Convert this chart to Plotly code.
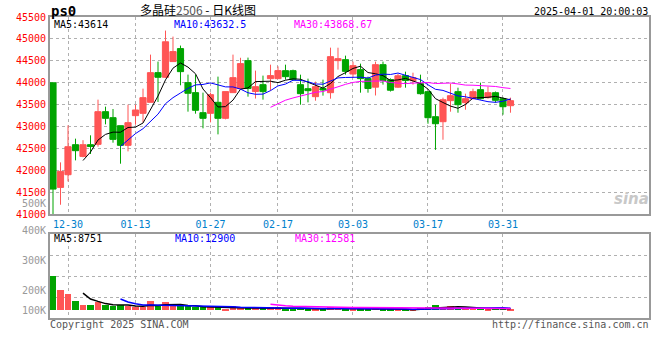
import pandas as pd
import plotly.graph_objects as go

dates = ["2024-12-26","2024-12-27","2024-12-30","2024-12-31","2025-01-02","2025-01-03","2025-01-06","2025-01-07",
         "2025-01-08","2025-01-09","2025-01-10","2025-01-13","2025-01-14","2025-01-15","2025-01-16","2025-01-17",
         "2025-01-20","2025-01-21","2025-01-22","2025-01-23","2025-01-24","2025-01-27","2025-02-05","2025-02-06",
         "2025-02-07","2025-02-10","2025-02-11","2025-02-12","2025-02-13","2025-02-14","2025-02-17","2025-02-18",
         "2025-02-19","2025-02-20","2025-02-21","2025-02-24","2025-02-25","2025-02-26","2025-02-27","2025-02-28",
         "2025-03-03","2025-03-04","2025-03-05","2025-03-06","2025-03-07","2025-03-10","2025-03-11","2025-03-12",
         "2025-03-13","2025-03-14","2025-03-17","2025-03-18","2025-03-19","2025-03-20","2025-03-21","2025-03-24",
         "2025-03-25","2025-03-26","2025-03-27","2025-03-28","2025-03-31","2025-04-01"]

opens = [44000,41614,41903,42588,42321,42588,42595,43341,43204,43021,42573,43250,43303,43554,44231,44125,
         44483,44779,44003,43775,43318,43303,43554,43189,43775,43866,44505,43800,43957,44094,44094,44276,
         44276,43957,43865,43683,43870,43774,44505,44527,44200,44299,44100,43900,44413,44071,43900,44162,
         44048,43980,43797,43226,43112,43592,43797,43546,43637,43843,43660,43774,43637,43477]
highs = [44000,42184,43029,42725,42690,42801,43615,43455,43402,43021,43501,43501,43866,44642,44483,45190,
         45053,44848,44186,44186,43775,43775,44140,43798,44642,44570,44574,44277,44163,44413,44375,44413,
         44300,44185,44094,44026,44071,44801,44800,44619,44482,44436,44140,44482,44482,44100,44200,44253,
         44230,44185,43797,43500,43660,43980,43888,43751,43865,44003,43911,43800,43667,43660]
lows = [40800,41218,41750,42230,42300,42375,42542,43052,42633,42154,42435,43044,43100,43554,43562,44110,
        44483,43942,43341,43295,42960,43097,42823,43166,43775,43866,43683,43640,43615,43820,44094,44071,
        44050,43500,43553,43591,43706,43637,44300,44185,44117,43774,43774,43710,43957,43800,43880,43888,
        43957,43729,43066,42470,42701,43340,43317,43386,43620,43620,43640,43546,43272,43317]
closes = [41575,41979,42542,42451,42588,42545,43341,43189,42709,42573,43090,43379,43661,44231,44125,44935,
          44711,44254,43760,43372,43189,43729,43189,43798,44117,44437,43870,43911,43798,44163,44277,44139,
          44071,43751,43820,43911,43835,44596,44550,44260,44390,44094,43870,44413,44050,43830,44160,44050,
          44117,43751,43203,43066,43614,43706,43500,43637,43797,43637,43774,43600,43454,43592]
volumes = [173500,103500,83500,48500,28500,28500,43500,28500,21500,28500,21500,18500,18500,48500,21500,43500,
           21500,21500,21500,18500,15000,15000,15000,8500,23500,11500,11500,11500,11500,15000,15000,8500,
           8500,13500,8500,8500,8500,18500,11500,8500,8500,8500,8500,18500,5000,5000,5000,5000,
           5000,13500,18500,28500,18500,23500,11500,11500,11500,11500,8500,11500,13500,5000]

tick_dates = ["2024-12-30","2025-01-13","2025-01-27","2025-02-17","2025-03-03","2025-03-17","2025-03-31"]
tick_labels = ["12-30","01-13","01-27","02-17","03-03","03-17","03-31"]
price_ticks = [41000,41500,42000,42500,43000,43500,44000,44500,45000,45500]
price_tick_labels = ["41000","41500","42000","42500","43000","43500","44000","44500","45000","45500"]

title_text = "多晶硅<span style='color:#555555'>2506</span> - 日K线图"
symbol_text = "ps0"
time_text = "2025-04-01 20:00:03"
price_ma_texts = ["MA5:43614", "MA10:43632.5", "MA30:43868.67"]
vol_ma_texts = ["MA5:8751", "MA10:12900", "MA30:12581"]
vol_axis_labels = ["500K", "400K", "300K", "200K", "100K"]

RED = "#ff5555"
GREEN = "#00a400"
MA_COLORS = ["#000000", "#0000ff", "#ff00ff"]
MONO = "DejaVu Sans Mono"

df = pd.DataFrame({"date": dates, "open": opens, "high": highs, "low": lows, "close": closes, "vol": volumes})
for n in (5, 10, 30):
    df[f"ma{n}"] = df["close"].rolling(n).mean()
    df[f"vma{n}"] = df["vol"].rolling(n).mean()
bar_colors = [RED if c >= o else GREEN for o, c in zip(opens, closes)]

fig = go.Figure()
fig.add_trace(go.Candlestick(
    x=df["date"], open=df["open"], high=df["high"], low=df["low"], close=df["close"],
    increasing=dict(line=dict(color=RED, width=1), fillcolor=RED),
    decreasing=dict(line=dict(color=GREEN, width=1), fillcolor=GREEN),
    whiskerwidth=0, xaxis="x", yaxis="y", showlegend=False, hoverinfo="skip"))
for n, col in zip((5, 10, 30), MA_COLORS):
    fig.add_trace(go.Scatter(x=df["date"], y=df[f"ma{n}"], mode="lines",
                             line=dict(color=col, width=1), xaxis="x", yaxis="y", showlegend=False))
fig.add_trace(go.Bar(x=df["date"], y=df["vol"], marker=dict(color=bar_colors, line=dict(width=0)),
                     width=0.82, xaxis="x2", yaxis="y2", showlegend=False))
for n, col in zip((5, 10, 30), MA_COLORS):
    fig.add_trace(go.Scatter(x=df["date"], y=df[f"vma{n}"], mode="lines",
                             line=dict(color=col, width=1.5), xaxis="x2", yaxis="y2", showlegend=False))

# layout geometry (pixels)
T, B, L, R = 17, 42, 50, 11
H, W = 360, 660
ph, pw = H - T - B, W - L - R
def py(p):
    return (H - B - p) / ph
def px(p):
    return (p - L) / pw

axis_common = dict(showline=True, mirror=True, linecolor="#999999", linewidth=2,
                   showgrid=True, gridcolor="#b0b0b0", griddash="dot", gridwidth=1,
                   zeroline=False, ticks="", automargin=False)
xr = [-0.4, 79.47]
fig.update_layout(
    width=W, height=H, margin=dict(l=L, r=R, t=T, b=B, autoexpand=False),
    paper_bgcolor="white", plot_bgcolor="white",
    boxgap=0.18, boxgroupgap=0, bargap=0,
    xaxis=dict(type="category", range=xr, domain=[0, 1], anchor="y",
               tickvals=tick_dates, ticktext=tick_labels,
               tickfont=dict(family=MONO, size=10, color="#0080cc"),
               rangeslider=dict(visible=False), **axis_common),
    yaxis=dict(domain=[py(214.3), 1], range=[41000, 45500], anchor="x",
               tickvals=price_ticks, ticktext=price_tick_labels,
               tickfont=dict(family=MONO, size=10, color="#ff0000"),
               **axis_common),
    xaxis2=dict(type="category", range=xr, domain=[0, 1], anchor="y2", matches="x",
                tickvals=tick_dates, showticklabels=False, **axis_common),
    yaxis2=dict(domain=[0, py(234.3)], range=[-36500, 382000], anchor="x2",
                tickvals=[-36500 + k * 104625 for k in (1, 2, 3)], showticklabels=False,
                **axis_common),
)

ann = []
def text(t, x, y, color="#000000", anchor="left", size=10, family=MONO, bold=False):
    ann.append(dict(text=f"<b>{t}</b>" if bold else t, x=px(x), y=py(y), xref="paper", yref="paper",
                    xanchor=anchor, yanchor="middle", showarrow=False, borderpad=0,
                    font=dict(family=family, size=size, color=color)))

text(symbol_text, 50, 11, size=14, bold=True)
text(title_text, 139, 10, size=12, family="Noto Sans CJK SC")
text(time_text, 649, 11.5, anchor="right")
for t, x, c in zip(price_ma_texts, (53, 173, 293), MA_COLORS):
    text(t, x, 24.5, color=c)
for t, x, c in zip(vol_ma_texts, (53, 174, 294), MA_COLORS):
    text(t, x, 238.5, color=c)
for t, y in zip(vol_axis_labels, (203, 230.7, 260.7, 290, 310)):
    text(t, 47, y, color="#999999", anchor="right")
text("Copyright 2025 SINA.COM", 49, 324.5, color="#555555")
text("http://finance.sina.com.cn", 650, 324.5, color="#555555", anchor="right")
text("<i>sina</i>", 650, 199, color="#c8c8c8", anchor="right", size=15, family="DejaVu Sans", bold=True)
fig.update_layout(annotations=ann)

fig.write_html("out.html", config={"displayModeBar": False},
               post_script="document.body.style.margin='0';document.body.style.overflow='hidden';")
